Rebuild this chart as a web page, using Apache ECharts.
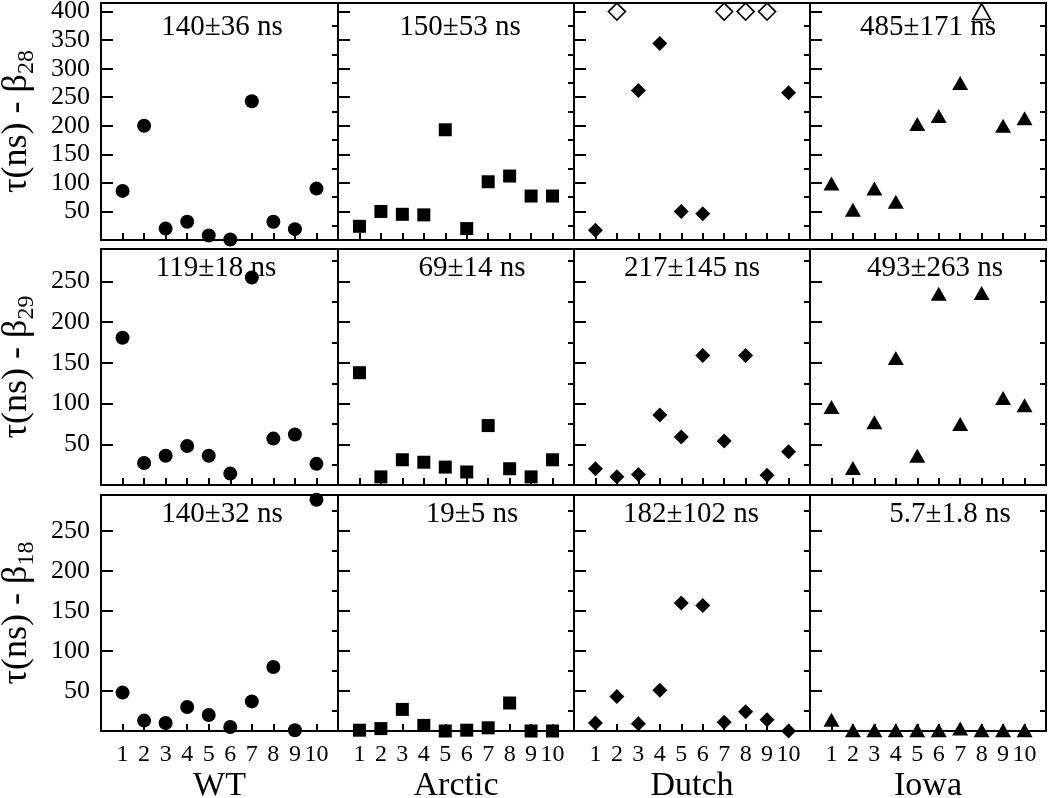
<!DOCTYPE html>
<html>
<head>
<meta charset="utf-8">
<script src="https://cdn.jsdelivr.net/npm/echarts@6/dist/echarts.min.js"></script>
<style>
html,body{margin:0;padding:0;background:#fff;}
#chart{width:1050px;height:798px;}
</style>
</head>
<body>
<div id="chart"></div>
<script>
// ---------------- data ----------------
const X_VALUES = [1, 2, 3, 4, 5, 6, 7, 8, 9, 10];
const X_TICK_LABELS = ['1', '2', '3', '4', '5', '6', '7', '8', '9', '10'];
const COLUMNS = ['WT', 'Arctic', 'Dutch', 'Iowa'];
const ROW_SUBSCRIPTS = ['28', '29', '18'];

const Y_LABELS_B28 = [50, 100, 150, 200, 250, 300, 350, 400];
const Y_MINOR_B28 = [25, 75, 125, 175, 225, 275, 325, 375];
const Y_LABELS_B29 = [50, 100, 150, 200, 250];
const Y_MINOR_B29 = [25, 75, 125, 175, 225, 275];
const Y_LABELS_B18 = [50, 100, 150, 200, 250];
const Y_MINOR_B18 = [25, 75, 125, 175, 225, 275];

// beta 28
const wtB28 = [86, 200, 20, 32, 8, 1, 243, 32, 19, 90];
const arcticB28 = [24, 50, 45, 44, 193, 20, 102, 112, 77, 77];
const dutchB28 = [17, null, 262, 344, 50, 46, null, null, null, 258];
const dutchB28Open = [null, 400, null, null, null, null, 400, 400, 400, null];
const iowaB28 = [99, 53, 90, 67, 203, 217, 275, null, 200, 213];
const iowaB28Open = [null, null, null, null, null, null, null, 400, null, null];
const NOTES_B28 = ['140±36 ns', '150±53 ns', '', '485±171 ns'];

// beta 29
const wtB29 = [181, 27, 36, 48, 36, 14, 255, 57, 62, 26];
const arcticB29 = [138, 10, 31, 28, 22, 16, 73, 20, 10, 31];
const dutchB29 = [20, 10, 13, 86, 59, 159, 54, 159, 12, 41];
const iowaB29 = [96, 21, 77, 156, 36, 235, 75, 236, 107, 98];
const NOTES_B29 = ['119±18 ns', '69±14 ns', '217±145 ns', '493±263 ns'];

// beta 18
const wtB18 = [48, 13, 10, 30, 20, 5, 37, 80, 1, 289];
const arcticB18 = [1, 3, 27, 7, 0, 1, 4, 35, 0, 0];
const dutchB18 = [10, 43, 9, 51, 160, 157, 11, 24, 14, 0];
const iowaB18 = [14, 1, 1, 1, 1, 1, 3, 1, 1, 1];
const NOTES_B18 = ['140±32 ns', '19±5 ns', '182±102 ns', '5.7±1.8 ns'];

// ---------------- layout ----------------
const FONT = "'Liberation Serif', 'Times New Roman', serif";
const colLeft = [101, 338, 574, 810];
const colWidth = [237, 236, 236, 236];
const rowTop = [3, 249, 495];
const rowHeight = [237, 236, 236];
const noteX = [[222, 460, 691, 928], [216, 472, 692, 935], [222, 472, 691, 950]];
const noteY = [27, 268, 514];

const rows = [
  { max: 415, labels: Y_LABELS_B28, minor: Y_MINOR_B28, series: [wtB28, arcticB28, dutchB28, iowaB28], open: [null, null, dutchB28Open, iowaB28Open], notes: NOTES_B28 },
  { max: 290, labels: Y_LABELS_B29, minor: Y_MINOR_B29, series: [wtB29, arcticB29, dutchB29, iowaB29], open: [null, null, null, null], notes: NOTES_B29 },
  { max: 295, labels: Y_LABELS_B18, minor: Y_MINOR_B18, series: [wtB18, arcticB18, dutchB18, iowaB18], open: [null, null, null, null], notes: NOTES_B18 }
];

const symbols = [
  { symbol: 'circle', size: 14 },
  { symbol: 'rect', size: 13 },
  { symbol: 'diamond', size: 15 },
  { symbol: 'triangle', size: [16, 14] }
];

const grid = [], xAxis = [], yAxis = [], series = [], graphic = [];

function pairs(arr) {
  return X_VALUES.map((x, i) => [x, arr[i]]).filter(d => d[1] !== null && d[1] !== undefined);
}

rows.forEach((row, r) => {
  COLUMNS.forEach((col, c) => {
    const gi = grid.length;
    grid.push({
      left: colLeft[c], top: rowTop[r], width: colWidth[c], height: rowHeight[r],
      show: true, borderColor: '#000', borderWidth: 2, backgroundColor: 'transparent',
      containLabel: false, outerBoundsMode: 'none'
    });
    const isBottom = r === rows.length - 1;
    xAxis.push({
      gridIndex: gi, type: 'value', min: 0, max: 11,
      axisLine: { show: false },
      splitLine: { show: false },
      axisTick: { show: true, inside: true, length: 7, customValues: X_VALUES, lineStyle: { color: '#000', width: 2 } },
      axisLabel: {
        show: isBottom, customValues: X_VALUES, margin: 12,
        formatter: v => X_TICK_LABELS[X_VALUES.indexOf(v)] || '',
        fontFamily: FONT, fontSize: 24, color: '#000'
      },
      name: isBottom ? col : '',
      nameLocation: 'middle', nameGap: 38,
      nameTextStyle: { fontFamily: FONT, fontSize: 34, color: '#000' }
    });
    const yi = yAxis.length;
    yAxis.push({
      gridIndex: gi, type: 'value', min: 0, max: row.max,
      axisLine: { show: false },
      splitLine: { show: false },
      axisTick: { show: true, inside: true, length: 12, customValues: row.labels, lineStyle: { color: '#000', width: 2 } },
      axisLabel: {
        show: c === 0, customValues: row.labels, margin: 11,
        fontFamily: FONT, fontSize: 26, color: '#000'
      },
      name: c === 0 ? '{a|τ(ns) - β}{b|' + ROW_SUBSCRIPTS[r] + '}' : '',
      nameLocation: 'middle', nameGap: 62,
      nameTextStyle: {
        color: '#000', fontFamily: FONT, fontSize: 36,
        rich: {
          a: { fontFamily: FONT, fontSize: 36, lineHeight: 44, color: '#000' },
          b: { fontFamily: FONT, fontSize: 24, lineHeight: 24, verticalAlign: 'bottom', color: '#000' }
        }
      }
    });
    yAxis.push({
      gridIndex: gi, type: 'value', min: 0, max: row.max,
      axisLine: { show: false },
      splitLine: { show: false },
      axisTick: { show: true, inside: true, length: 6, customValues: row.minor, lineStyle: { color: '#000', width: 2 } },
      axisLabel: { show: false }
    });
    series.push({
      type: 'scatter', xAxisIndex: gi, yAxisIndex: yi,
      data: pairs(row.series[c]),
      symbol: symbols[c].symbol, symbolSize: symbols[c].size,
      itemStyle: { color: '#000', opacity: 1 },
      clip: false, z: 5, silent: true
    });
    if (row.open[c]) {
      series.push({
        type: 'scatter', xAxisIndex: gi, yAxisIndex: yi,
        data: pairs(row.open[c]),
        symbol: symbols[c].symbol,
        symbolSize: symbols[c].symbol === 'triangle' ? [18, 16] : 17,
        itemStyle: { color: '#fff', borderColor: '#000', borderWidth: 1.6, opacity: 1 },
        clip: false, z: 6, silent: true
      });
    }
    if (row.notes[c]) {
      graphic.push({
        type: 'text', x: noteX[r][c], y: noteY[r], z: 1,
        style: {
          text: row.notes[c], fill: '#000',
          font: '29px ' + FONT,
          textAlign: 'center', textVerticalAlign: 'middle'
        }
      });
    }
  });
});

const chart = echarts.init(document.getElementById('chart'), null, { renderer: 'canvas' });
chart.setOption({
  backgroundColor: '#fff',
  animation: false,
  grid, xAxis, yAxis, series, graphic
});
</script>
</body>
</html>
